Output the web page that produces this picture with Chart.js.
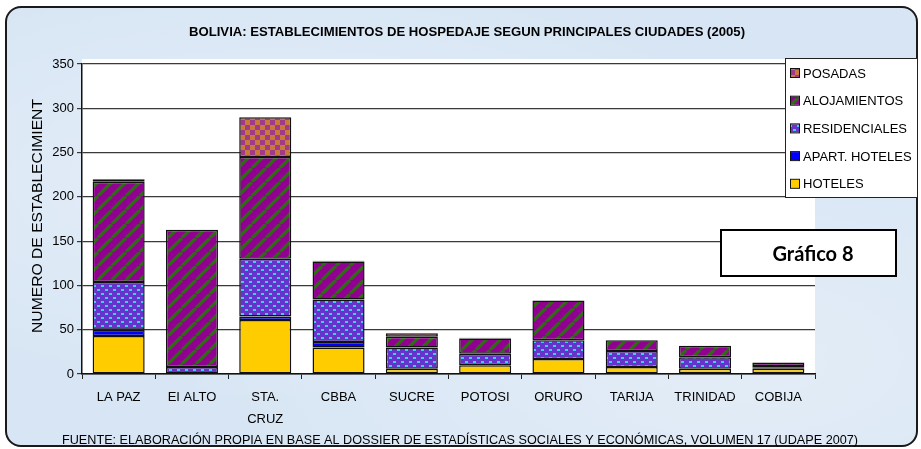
<!DOCTYPE html>
<html>
<head>
<meta charset="utf-8">
<script src="https://cdn.jsdelivr.net/npm/chart.js@4/dist/chart.umd.min.js"></script>
<style>
  html, body { margin: 0; padding: 0; background: #fff; }
  #wrap {
    position: relative;
    width: 921px;
    height: 449px;
    overflow: hidden;
  }
  #frame {
    position: absolute;
    left: 5px; top: 6px;
    width: 909px; height: 437px;
    border: 2px solid #1a1a1a;
    border-radius: 16px;
    background:
      radial-gradient(ellipse at 30% 40%, rgba(255,255,255,0.35), rgba(255,255,255,0) 60%),
      radial-gradient(ellipse at 80% 80%, rgba(255,255,255,0.3), rgba(255,255,255,0) 55%),
      #d7e5f4;
  }
  canvas { position: absolute; left: 0; top: 0; }
</style>
</head>
<body>
<div id="wrap">
  <div id="frame"></div>
  <canvas id="chart" width="921" height="449"></canvas>
</div>
<script>
const ciudades = ['LA PAZ', 'EI ALTO', ['STA.', 'CRUZ'], 'CBBA', 'SUCRE', 'POTOSI', 'ORURO', 'TARIJA', 'TRINIDAD', 'COBIJA'];
const hoteles       = [43, 0, 61, 30, 6, 10, 17, 8, 6, 6];
const apartHoteles  = [7, 0, 4, 6, 0, 0, 0, 0, 0, 1];
const residenciales = [54, 8, 65, 48, 24, 13, 21, 18, 13, 2];
const alojamientos  = [113, 155, 115, 43, 12, 17, 45, 12, 13, 4];
const posadas       = [3, 0, 45, 1, 4, 1, 0, 0, 0, 0];
const yTicks = [0, 50, 100, 150, 200, 250, 300, 350];

const TITLE = 'BOLIVIA: ESTABLECIMIENTOS DE HOSPEDAJE SEGUN PRINCIPALES CIUDADES (2005)';
const FOOTER = 'FUENTE: ELABORACIÓN PROPIA EN BASE AL DOSSIER DE ESTADÍSTICAS SOCIALES Y ECONÓMICAS, VOLUMEN 17 (UDAPE 2007)';
const Y_TITLE = 'NUMERO DE ESTABLECIMIENT';
const BADGE = 'Gráfico 8';

// fill patterns, like the old excel chart
function makePattern(w, h, paint) {
  const c = document.createElement('canvas');
  c.width = w; c.height = h;
  const g = c.getContext('2d');
  paint(g);
  return g.createPattern(c, 'repeat');
}
const ctx = document.getElementById('chart').getContext('2d');

const patResid = makePattern(8, 8, g => {
  g.fillStyle = '#6633cc';
  g.fillRect(0, 0, 8, 8);
  g.fillStyle = '#3ccfe8';
  g.fillRect(1, 1, 3, 2);
  g.fillRect(5, 5, 3, 2);
});
const patAloj = makePattern(14, 14, g => {
  g.fillStyle = '#910091';
  g.fillRect(0, 0, 14, 14);
  g.strokeStyle = '#2f6a14';
  g.lineWidth = 3.5;
  for (let x = 0; x <= 28; x += 14) {
    g.beginPath();
    g.moveTo(x - 14, 14);
    g.lineTo(x, 0);
    g.stroke();
  }
});
const patPos = makePattern(10, 10, g => {
  g.fillStyle = '#c87a38';
  g.fillRect(0, 0, 10, 10);
  g.fillStyle = '#a23a8c';
  g.fillRect(0, 0, 5, 5);
  g.fillRect(5, 5, 5, 5);
});

function ds(label, data, color) {
  return {
    label, data,
    backgroundColor: color,
    borderColor: '#111',
    borderWidth: 1.5,
    borderSkipped: false,
    barPercentage: 0.71,
    categoryPercentage: 1.0,
  };
}

function fitText(c, text, cx, y, width) {
  const w = c.measureText(text).width;
  c.save();
  c.translate(cx, y);
  c.scale(width / w, 1);
  c.textAlign = 'center';
  c.fillText(text, 0, 0);
  c.restore();
}

const decor = {
  id: 'decor',
  beforeDraw(chart) {
    const a = chart.chartArea;
    const c = chart.ctx;
    c.save();
    c.fillStyle = '#fff';
    c.fillRect(a.left, a.top - 5, a.right - a.left, a.bottom - a.top + 5);
    c.restore();
  },
  afterDraw(chart) {
    const c = chart.ctx;
    c.save();
    c.fillStyle = '#000';
    c.textBaseline = 'middle';

    // title
    c.font = 'bold 12px "Liberation Sans", Arial, sans-serif';
    fitText(c, TITLE, 467, 33, 556);

    // footer
    c.font = '13px "Liberation Sans", Arial, sans-serif';
    fitText(c, FOOTER, 460, 440, 796);

    // y axis title
    c.save();
    c.translate(38, 216);
    c.rotate(-Math.PI / 2);
    c.font = '14px "Liberation Sans", Arial, sans-serif';
    fitText(c, Y_TITLE, 0, 0, 234);
    c.restore();

    // legend box
    const lx = 785, ly = 58, lw = 132, lh = 139;
    c.fillStyle = '#fff';
    c.fillRect(lx, ly, lw, lh);
    c.strokeStyle = '#222';
    c.lineWidth = 1;
    c.strokeRect(lx + 0.5, ly + 0.5, lw, lh);
    const items = chart.data.datasets.slice().reverse();
    c.font = '13px "Liberation Sans", Arial, sans-serif';
    c.textAlign = 'left';
    items.forEach((d, i) => {
      const y = 73 + i * 27.7;
      c.fillStyle = d.backgroundColor;
      c.fillRect(791, y - 4, 8, 8);
      c.strokeStyle = '#111';
      c.strokeRect(790.5, y - 4.5, 9, 9);
      c.fillStyle = '#000';
      c.fillText(d.label, 803, y + 1);
    });

    // badge
    c.fillStyle = '#fff';
    c.fillRect(720, 229, 177, 48);
    c.strokeStyle = '#000';
    c.lineWidth = 2;
    c.strokeRect(721, 230, 175, 46);
    c.fillStyle = '#000';
    c.font = 'bold 20px Lato, "Open Sans", sans-serif';
    c.textAlign = 'center';
    c.fillText(BADGE, 813, 255);

    c.restore();
  }
};

new Chart(ctx, {
  type: 'bar',
  data: {
    labels: ciudades,
    datasets: [
      ds('HOTELES', hoteles, '#ffcc00'),
      ds('APART. HOTELES', apartHoteles, '#0000ff'),
      ds('RESIDENCIALES', residenciales, patResid),
      ds('ALOJAMIENTOS', alojamientos, patAloj),
      ds('POSADAS', posadas, patPos),
    ],
  },
  options: {
    responsive: false,
    animation: false,
    devicePixelRatio: 1,
    layout: { padding: { left: 0, top: 64, right: 106, bottom: 0 } },
    plugins: {
      legend: { display: false },
      title: { display: false },
      tooltip: { enabled: false },
    },
    scales: {
      x: {
        stacked: true,
        afterFit: s => { s.height = 75; },
        grid: { drawOnChartArea: false, drawTicks: true, tickLength: 5, color: '#222', offset: true },
        border: { color: '#111', width: 1.5 },
        ticks: {
          color: '#000',
          maxRotation: 0,
          autoSkip: false,
          padding: 7,
          font: { family: '"Liberation Sans", Arial, sans-serif', size: 13, lineHeight: 1.7 },
        },
      },
      y: {
        stacked: true,
        min: 0,
        max: 350,
        afterFit: s => { s.width = 82; },
        afterBuildTicks: s => { s.ticks = yTicks.map(v => ({ value: v })); },
        grid: { color: '#3a3a3a', lineWidth: 1.2, tickLength: 5 },
        border: { color: '#111', width: 1.5 },
        ticks: {
          color: '#000',
          padding: 3,
          font: { family: '"Liberation Sans", Arial, sans-serif', size: 13 },
        },
      },
    },
  },
  plugins: [decor],
});
</script>
</body>
</html>
